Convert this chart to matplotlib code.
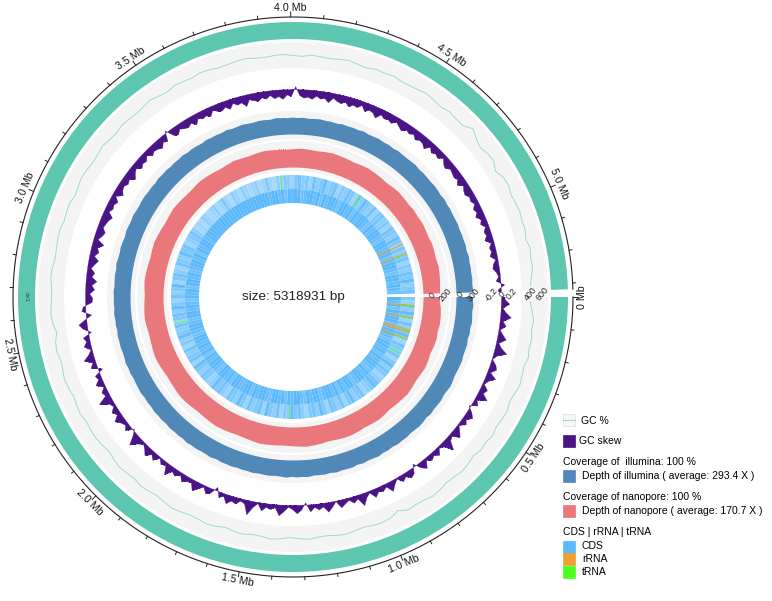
import numpy as np
import matplotlib
matplotlib.use("Agg")
import matplotlib.pyplot as plt
from matplotlib.patches import Rectangle
from matplotlib.lines import Line2D

plt.rcParams['font.family'] = ['Liberation Sans', 'DejaVu Sans']

# ---------------- data ----------------
genome_size = 5318931
contig_name = "chr1"
tick_mb = [0.0, 0.5, 1.0, 1.5, 2.0, 2.5, 3.0, 3.5, 4.0, 4.5, 5.0]
tick_labels = ["0 Mb", "0.5 Mb", "1.0 Mb", "1.5 Mb", "2.0 Mb", "2.5 Mb",
               "3.0 Mb", "3.5 Mb", "4.0 Mb", "4.5 Mb", "5.0 Mb"]

gc_percent = [
    45.6, 46.4, 47.1, 46.8, 47.3, 47.0, 47.5, 46.9, 47.2, 47.6,
    47.1, 46.7, 47.4, 47.2, 46.9, 47.5, 47.0, 47.3, 46.6, 47.2,
    47.4, 47.0, 46.8, 47.3, 47.6, 47.1, 46.9, 47.2, 45.9, 47.0,
    47.4, 47.2, 46.8, 47.1, 47.5, 47.3, 46.9, 47.0, 47.4, 47.1,
    46.7, 47.2, 47.5, 47.0, 46.8, 47.3, 47.1, 46.5, 47.2, 47.4,
    47.0, 46.9, 47.3, 47.6, 47.2, 46.8, 47.1, 47.4, 46.9, 47.2,
    47.5, 47.1, 46.6, 47.0, 47.3, 47.2, 46.9, 47.4, 47.1, 46.8,
    47.2, 47.5, 47.0, 46.7, 47.3, 47.1, 46.2, 47.0, 47.4, 47.2,
    46.9, 47.1, 47.5, 47.3, 46.8, 47.0, 47.2, 47.4, 46.9, 47.1,
    47.3, 46.6, 47.0, 47.4, 47.2, 46.9, 47.1, 47.5, 47.0, 46.8,
    47.3, 47.1, 46.9, 47.2, 47.6, 47.0, 46.7, 47.3, 47.1, 46.9,
    47.4, 47.2, 46.8, 47.0, 47.3, 47.5, 47.1, 46.9, 47.2, 47.4,
    47.0, 46.8, 47.3, 47.1, 46.9, 47.2, 47.5, 47.0, 46.7, 47.3,
    47.1, 47.4, 46.9, 47.0, 47.2, 47.6, 47.1, 46.8, 47.3, 47.0,
    46.9, 48.6, 47.2, 46.4, 47.1, 47.3, 46.0, 47.2, 47.4, 46.8,
    47.0, 47.3, 46.9, 47.1, 46.5, 47.2, 46.8, 47.0, 46.3, 45.8,
]

gc_skew = [
    0.06, 0.14, 0.03, 0.09, 0.18, 0.05, 0.11, 0.02, 0.08, 0.15,
    0.04, 0.10, 0.21, 0.06, 0.01, 0.09, 0.13, 0.05, 0.17, 0.07,
    0.03, 0.12, 0.08, 0.19, 0.04, 0.10, -0.03, 0.07, 0.14, 0.06,
    0.11, 0.02, 0.09, 0.16, 0.05, 0.08, 0.22, 0.07, 0.03, 0.12,
    0.06, 0.10, 0.04, 0.15, 0.08, -0.05, 0.09, 0.13, 0.06, 0.11,
    0.02, 0.08, 0.17, 0.05, 0.10, 0.07, 0.14, 0.03, 0.09, 0.20,
    0.06, 0.11, 0.04, 0.08, 0.13, 0.01, 0.09, 0.16, 0.06, 0.10,
    0.05, 0.12, -0.04, 0.08, 0.14, 0.07, 0.03, 0.11, 0.18, 0.05,
    0.09, 0.06, 0.13, 0.02, 0.10, 0.24, 0.07, 0.04, 0.11, 0.08,
    0.15, 0.05, 0.09, -0.06, 0.07, 0.12, 0.03, 0.10, 0.17, 0.06,
    0.08, 0.13, 0.04, 0.11, 0.07, 0.19, 0.05, 0.09, 0.02, 0.12,
    0.06, 0.15, 0.08, 0.03, 0.10, 0.21, 0.07, -0.03, 0.11, 0.05,
    0.09, 0.16, 0.06, 0.12, 0.04, 0.08, 0.23, 0.07, 0.10, 0.03,
    0.14, 0.06, 0.09, -0.07, 0.11, 0.05, 0.18, 0.08, 0.02, 0.12,
    0.06, 0.10, -0.05, 0.08, 0.14, 0.03, -0.09, 0.07, 0.04, -0.11,
    -0.12, -0.07, -0.15, -0.10, -0.18, -0.09, -0.13, -0.06, -0.11, -0.16,
    -0.08, -0.14, -0.10, -0.19, -0.07, -0.12, -0.15, -0.09, -0.11, -0.13,
    -0.17, -0.08, -0.12, -0.10, -0.14, -0.06, -0.16, -0.11, -0.09, -0.13,
    -0.10, -0.18, -0.12, -0.08, -0.15, -0.11, -0.13, -0.07, -0.14, -0.10,
    -0.12, -0.16, -0.09, -0.13, 0.04, -0.11, -0.15, -0.08, -0.12, -0.14,
    -0.10, -0.17, -0.09, -0.13, -0.11, -0.15, -0.07, -0.12, -0.14, -0.10,
    -0.16, -0.08, -0.13, -0.11, -0.19, -0.09, -0.12, -0.15, -0.10, -0.13,
    -0.08, -0.14, -0.11, -0.16, -0.09, -0.12, 0.05, -0.10, -0.14, -0.12,
    -0.15, -0.09, -0.13, -0.11, -0.17, -0.08, -0.12, -0.14, -0.10, -0.16,
    -0.11, -0.13, -0.07, -0.15, -0.10, -0.12, -0.18, -0.09, -0.13, -0.11,
    -0.14, -0.08, -0.12, -0.16, -0.10, -0.13, -0.09, -0.15, -0.11, -0.12,
    -0.17, -0.08, -0.14, -0.10, -0.13, -0.06, -0.12, -0.15, -0.09, -0.11,
    -0.13, -0.10, -0.16, -0.08, -0.12, -0.14, -0.09, -0.11, -0.07, -0.13,
    -0.10, -0.15, -0.08, -0.12, -0.06, -0.11, -0.09, -0.14, -0.05, -0.10,
    -0.08, -0.12, -0.04, -0.09, -0.11, -0.06, -0.03, -0.08, 0.06, -0.05,
]

illumina_depth = [
    292, 301, 288, 296, 305, 290, 298, 284, 300, 294,
    289, 303, 297, 291, 286, 299, 308, 293, 287, 300,
    295, 290, 302, 285, 297, 304, 292, 288, 299, 294,
    301, 287, 296, 290, 306, 293, 289, 298, 284, 300,
    295, 291, 303, 288, 297, 292, 286, 301, 294, 299,
    290, 305, 293, 287, 298, 296, 289, 302, 291, 295,
    288, 300, 294, 297, 285, 303, 292, 290, 299, 293,
    304, 289, 296, 291, 300, 287, 298, 294, 302, 290,
    295, 288, 301, 297, 292, 286, 299, 293, 305, 291,
    289, 298, 294, 300, 287, 296, 292, 303, 290, 297,
    293, 301, 288, 295, 299, 291, 306, 294, 289, 298,
    292, 285, 300, 296, 290, 303, 294, 288, 297, 301,
    291, 295, 287, 302, 293, 299, 289, 296, 292, 304,
    290, 298, 294, 286, 300, 293, 297, 291, 305, 288,
    296, 301, 292, 289, 299, 294, 287, 303, 295, 290,
    298, 292, 300, 288, 296, 302, 291, 294, 286, 299,
    293, 297, 290, 304, 289, 295, 301, 292, 298, 287,
    300, 294, 291, 296, 303, 288, 297, 293, 290, 299,
    295, 286, 302, 292, 298, 291, 294, 300, 289, 296,
    293, 299, 287, 301, 292, 295, 290, 297, 288, 294,
]

nanopore_depth = [
    150, 162, 168, 171, 166, 174, 170, 163, 172, 176,
    169, 165, 173, 178, 171, 167, 160, 168, 174, 170,
    166, 172, 177, 175, 169, 164, 171, 176, 180, 174,
    170, 167, 173, 178, 182, 176, 171, 168, 174, 179,
    184, 180, 175, 171, 177, 183, 186, 181, 176, 172,
    178, 185, 188, 182, 177, 173, 179, 184, 180, 175,
    170, 176, 181, 177, 172, 168, 174, 179, 175, 170,
    165, 171, 176, 172, 167, 163, 169, 174, 170, 166,
    161, 167, 172, 168, 164, 170, 175, 171, 167, 162,
    168, 173, 169, 165, 171, 176, 172, 168, 163, 169,
    174, 170, 166, 160, 167, 172, 168, 164, 170, 166,
    171, 167, 163, 169, 165, 161, 167, 163, 158, 152,
]

cds_plus = [
    6, 4, 7, 5, 8, 6, 4, 7, 5, 6, 8, 5, 4, 7, 6, 5, 7, 4, 6, 8,
    5, 7, 6, 4, 5, 7, 8, 6, 5, 4, 7, 6, 5, 8, 6, 4, 7, 5, 6, 7,
    4, 6, 8, 5, 7, 6, 4, 5, 7, 6, 8, 5, 6, 4, 7, 5, 6, 8, 4, 7,
    6, 5, 7, 4, 6, 8, 5, 6, 7, 4, 5, 7, 6, 8, 5, 4, 6, 7, 5, 6,
    8, 4, 7, 6, 5, 7, 4, 6, 5, 8, 6, 5, 7, 4, 6, 7, 5, 8, 6, 4,
    7, 5, 6, 8, 4, 6, 7, 5, 4, 7, 6, 5, 8, 6, 7, 4, 5, 6, 7, 5,
    3, 4, 3, 5, 4, 3, 4, 5, 3, 4, 6, 4, 3, 5, 4, 3, 5, 4, 3, 4,
    5, 3, 4, 6, 4, 3, 5, 4, 6, 5, 4, 6, 7, 5, 6, 4, 7, 5, 6, 8,
    5, 6, 7, 4, 6, 5, 7, 6, 4, 7, 5, 8, 6, 5, 7, 4, 6, 7, 5, 6,
    4, 7, 6, 5, 8, 6, 4, 7, 5, 6, 7, 4, 6, 5, 7, 6, 8, 5, 6, 7,
]

cds_minus = [
    9, 8, 9, 7, 9, 8, 9, 9, 7, 8, 9, 9, 8, 7, 9, 9, 8, 9, 7, 9,
    8, 9, 9, 8, 7, 9, 8, 9, 9, 8, 7, 9, 9, 8, 9, 7, 9, 8, 9, 9,
    8, 7, 9, 9, 8, 9, 7, 8, 9, 9, 8, 9, 7, 9, 8, 9, 9, 7, 8, 9,
    9, 8, 9, 7, 9, 9, 8, 8, 9, 9, 7, 9, 8, 9, 9, 7, 8, 9, 9, 8,
    9, 7, 9, 8, 9, 8, 9, 9, 7, 8, 9, 9, 8, 7, 9, 9, 8, 9, 8, 7,
    9, 8, 9, 7, 9, 9, 8, 9, 7, 8, 9, 9, 8, 9, 7, 9, 8, 9, 9, 8,
    9, 9, 9, 9, 9, 9, 9, 9, 9, 9, 9, 9, 9, 9, 9, 9, 9, 9, 9, 9,
    9, 9, 9, 8, 9, 9, 8, 9, 7, 9, 8, 9, 9, 7, 8, 9, 9, 8, 9, 7,
    9, 8, 9, 9, 8, 7, 9, 9, 8, 9, 7, 9, 8, 9, 9, 8, 7, 9, 8, 9,
    9, 8, 7, 9, 9, 8, 9, 9, 7, 8, 9, 9, 8, 7, 9, 9, 8, 9, 8, 7,
]

rrna_kb = [60, 150, 235, 250, 300, 4960, 5030]
trna_kb = [64, 154, 238, 303, 410, 1360, 2480, 3920, 4510, 5034]

illumina_coverage = 100
illumina_avg = 293.4
nanopore_coverage = 100
nanopore_avg = 170.7

# ---------------- styling / geometry ----------------
C_TEAL = '#5cc6b0'
C_GCLINE = '#9fd9cc'
C_SKEW = '#4a1486'
C_ILLU = '#5088b8'
C_NANO = '#e9777b'
C_CDS = '#5bb8fa'
C_RRNA = '#f0a030'
C_TRNA = '#4cff1c'
C_BG = '#f4f4f4'

W, H = 772, 601
CX, CY = 293, 297
RMAX = 292
GAP = np.deg2rad(1.6)
SPAN = 2 * np.pi - GAP

fig = plt.figure(figsize=(W / 100, H / 100), dpi=100)
ax = fig.add_axes([(CX - RMAX) / W, (H - CY - RMAX) / H, 2 * RMAX / W, 2 * RMAX / H],
                  projection='polar')
ax.set_theta_zero_location('E')
ax.set_theta_direction(-1)
ax.set_ylim(0, RMAX)
ax.axis('off')


def bp2t(p):
    return np.asarray(p, dtype=float) / genome_size * SPAN


def bin_theta(n):
    return (np.arange(n) + 0.5) / n * SPAN


def full_ring(r0, r1, color, z=1):
    ax.bar(SPAN / 2, r1 - r0, width=SPAN, bottom=r0, color=color, linewidth=0, zorder=z)


def padded(values):
    v = np.asarray(values, dtype=float)
    th = np.concatenate([[0], bin_theta(len(v)), [SPAN]])
    return th, np.concatenate([[v[0]], v, [v[-1]]])


# outer ideogram
full_ring(258, 275, C_TEAL, 2)
ax.text(np.pi, 266.5, contig_name, fontsize=3.5, rotation=-90, ha='center', va='center',
        color='#1a4a40')

# coordinate axis
tt = np.linspace(0, SPAN, 800)
ax.plot(tt, np.full_like(tt, 280), color='#222222', lw=0.8, zorder=3)
for k in range(0, 54):
    pos = k * 0.1
    if pos * 1e6 > genome_size:
        break
    t = bp2t(pos * 1e6)
    major = (k % 5 == 0)
    ax.plot([t, t], [280, 285 if major else 283], color='#222222', lw=0.7, zorder=3)

for mb, lab in zip(tick_mb, tick_labels):
    t = bp2t(mb * 1e6)
    deg = np.degrees(t)
    theta_math = (-deg) % 360
    if theta_math == 0 or theta_math > 180:
        rot = theta_math + 90
    else:
        rot = theta_math - 90
    rot = (rot + 180) % 360 - 180
    ax.text(t, 289, lab, fontsize=7.7, rotation=rot, rotation_mode='anchor',
            ha='center', va='center', color='#111111')

# GC % track
full_ring(229, 255, C_BG, 1)
gth = bin_theta(len(gc_percent))
gr = 229 + (np.asarray(gc_percent) - 43.0) / 8.0 * 25
ax.plot(gth, gr, color=C_GCLINE, lw=0.7, zorder=3)

# GC skew
SKEW_BASE = 208
sth, sv = padded(gc_skew)
ax.fill_between(sth, SKEW_BASE, SKEW_BASE + sv * 60, color=C_SKEW, linewidth=0.2,
                edgecolor=C_SKEW, zorder=3)

# illumina depth
full_ring(158, 186, C_BG, 1)
ith, iv = padded(illumina_depth)
ax.fill_between(ith, 163, 163 + iv / 300 * 17, color=C_ILLU, linewidth=0, zorder=3)

# nanopore depth
full_ring(126, 156, C_BG, 1)
nth, nv = padded(nanopore_depth)
ax.fill_between(nth, 130, 130 + nv / 200 * 22, color=C_NANO, linewidth=0, zorder=3)

# track scale labels in the gap
tg = 2 * np.pi - GAP / 2
for r, s in [(139, '0'), (152, '200'), (167, '0'), (180, '300'),
             (199, '-0.2'), (209, '0'), (219, '0.2'), (238, '400'), (249, '600')]:
    ax.text(tg, r, s, fontsize=6.3, rotation=50, ha='center', va='center', color='#222222', zorder=5)

# genes: gene coverage per bin shown as shade of the CDS colour
base_rgb = np.array(matplotlib.colors.to_rgb(C_CDS))


def gene_ring(dens, r0, r1):
    n = len(dens)
    th = bin_theta(n)
    a = 0.3 + 0.7 * np.asarray(dens, dtype=float) / 9.0
    cols = [tuple(1 - ai * (1 - base_rgb)) for ai in a]
    ax.bar(th, r1 - r0, width=SPAN / n, bottom=r0, color=cols, linewidth=0, zorder=2)


gene_ring(cds_plus, 108, 122)
gene_ring(cds_minus, 94, 108)
ax.bar(bp2t(np.asarray(rrna_kb) * 1000), 28, width=bp2t(9000), bottom=94,
       color=C_RRNA, linewidth=0, zorder=4)
ax.bar(bp2t(np.asarray(trna_kb) * 1000), 14, width=bp2t(6000), bottom=108,
       color=C_TRNA, linewidth=0, zorder=4)

ax.text(0, 0, f"size: {genome_size} bp", fontsize=9.7, ha='center', va='center', color='#222222')

# ---------------- legend ----------------
lax = fig.add_axes([0, 0, 1, 1])
lax.set_xlim(0, W)
lax.set_ylim(H, 0)
lax.axis('off')

FS = 7.5
SW = 12


def swatch(y0, color, edge=None):
    lax.add_patch(Rectangle((563, y0), SW, SW, facecolor=color,
                            edgecolor=edge if edge else color, linewidth=0.5))


swatch(414, '#f7f7f7', '#dddddd')
lax.add_line(Line2D([563, 575], [420, 420], color=C_GCLINE, lw=0.8))
lax.text(581, 421, "GC %", fontsize=FS, va='center', ha='left')
swatch(435, C_SKEW)
lax.text(579, 441, "GC skew", fontsize=FS, va='center', ha='left')
lax.text(563, 462, f"Coverage of  illumina: {illumina_coverage} %", fontsize=FS, va='center', ha='left')
swatch(470, C_ILLU)
lax.text(582, 476, f"Depth of illumina ( average: {illumina_avg} X )", fontsize=FS, va='center', ha='left')
lax.text(563, 497, f"Coverage of nanopore: {nanopore_coverage} %", fontsize=FS, va='center', ha='left')
swatch(505, C_NANO)
lax.text(582, 511, f"Depth of nanopore ( average: {nanopore_avg} X )", fontsize=FS, va='center', ha='left')
lax.text(563, 532, "CDS | rRNA | tRNA", fontsize=FS, va='center', ha='left')
swatch(541, C_CDS)
lax.text(582, 546, "CDS", fontsize=FS, va='center', ha='left')
swatch(553, C_RRNA)
lax.text(582, 559, "rRNA", fontsize=FS, va='center', ha='left')
swatch(566, C_TRNA)
lax.text(582, 572, "tRNA", fontsize=FS, va='center', ha='left')

fig.savefig("out.png", dpi=100)
